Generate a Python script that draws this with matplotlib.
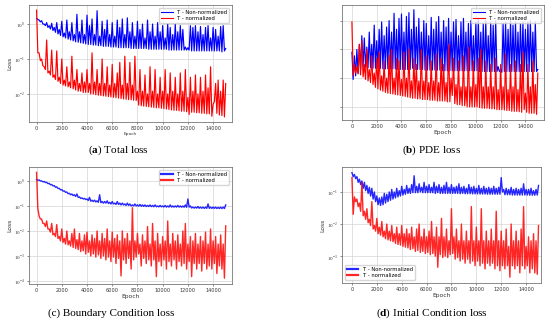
import numpy as np
import matplotlib
matplotlib.use("Agg")
import matplotlib.pyplot as plt

plt.rcParams['font.family'] = ['DejaVu Sans']
plt.rcParams['mathtext.fontset'] = 'custom'
plt.rcParams['mathtext.bf'] = 'Liberation Serif:bold'
plt.rcParams['mathtext.rm'] = 'Liberation Serif'

# epochs: peaks sampled at even hundreds*2, floors in between
ep_top = np.arange(0, 15001, 200)
ep_bot = np.arange(100, 15000, 200)

# ---------- (a) Total loss ----------
a_blue_top = [1.45, 1.3, 1.25, 1.0, 1.1, 0.9, 1.05, 0.8, 1.1, 0.7,
              1.2, 0.55, 1.3, 0.6, 1.1, 0.5, 1.9, 0.6, 1.3, 0.5,
              1.8, 0.9, 1.4, 0.5, 2.4, 0.45, 1.2, 0.7, 1.3, 0.5,
              1.1, 0.45, 1.3, 0.8, 1.4, 0.5, 1.5, 0.6, 1.1, 0.45,
              1.2, 0.7, 1.0, 0.4, 1.3, 0.6, 1.0, 0.45, 1.1, 0.6,
              0.9, 0.4, 1.0, 0.8, 0.5, 1.0, 0.6, 0.9, 0.7, 0.22,
              0.21, 0.9, 0.8, 0.9, 0.6, 0.85, 0.5, 0.8, 0.9, 0.4,
              0.8, 0.7, 0.45, 0.85, 0.9, 0.2]
a_blue_bot = [1.35, 1.15, 1.0, 0.9, 0.8, 0.72, 0.65, 0.58, 0.52, 0.47,
              0.43, 0.4, 0.37, 0.35, 0.33, 0.31, 0.3, 0.29, 0.28, 0.27,
              0.26, 0.26, 0.25, 0.25, 0.24, 0.24, 0.23, 0.23, 0.23, 0.22,
              0.22, 0.22, 0.21, 0.21, 0.21, 0.21, 0.21, 0.2, 0.2, 0.2,
              0.2, 0.2, 0.2, 0.2, 0.19, 0.19, 0.19, 0.19, 0.19, 0.19,
              0.19, 0.19, 0.18, 0.18, 0.18, 0.18, 0.18, 0.18, 0.18, 0.18,
              0.18, 0.17, 0.17, 0.17, 0.17, 0.17, 0.17, 0.17, 0.17, 0.17,
              0.17, 0.17, 0.17, 0.16, 0.17]
a_red_top = [2.5, 0.15, 0.1, 0.06, 0.35, 0.045, 0.18, 0.035, 0.17, 0.03,
             0.1, 0.025, 0.06, 0.022, 0.12, 0.025, 0.05, 0.02, 0.04, 0.022,
             0.05, 0.02, 0.15, 0.022, 0.05, 0.02, 0.1, 0.02, 0.06, 0.018,
             0.07, 0.02, 0.04, 0.08, 0.018, 0.12, 0.02, 0.08, 0.018, 0.12,
             0.012, 0.05, 0.012, 0.035, 0.01, 0.06, 0.012, 0.05, 0.01, 0.03,
             0.012, 0.05, 0.01, 0.04, 0.012, 0.03, 0.01, 0.04, 0.012, 0.05,
             0.008, 0.03, 0.012, 0.035, 0.01, 0.03, 0.012, 0.035, 0.015, 0.06,
             0.005, 0.02, 0.025, 0.012, 0.025, 0.02]
a_red_bot = [0.15, 0.09, 0.065, 0.05, 0.04, 0.035, 0.03, 0.026, 0.023, 0.02,
             0.018, 0.017, 0.016, 0.015, 0.014, 0.013, 0.012, 0.012, 0.011, 0.011,
             0.011, 0.01, 0.01, 0.0095, 0.0092, 0.009, 0.0088, 0.0086, 0.0084, 0.0082,
             0.008, 0.0078, 0.0076, 0.0074, 0.0072, 0.007, 0.0069, 0.0068, 0.0066, 0.0065,
             0.0048, 0.0046, 0.0045, 0.0044, 0.0043, 0.0042, 0.0041, 0.004, 0.004, 0.0039,
             0.0038, 0.0037, 0.0036, 0.0035, 0.0034, 0.0034, 0.0033, 0.0032, 0.0032, 0.0031,
             0.0026, 0.003, 0.003, 0.0029, 0.0029, 0.0028, 0.0028, 0.0027, 0.0027, 0.0023,
             0.006, 0.0028, 0.0025, 0.0024, 0.0022]

# ---------- (b) PDE loss ----------
b_blue_top = [0.08, 0.06, 0.1, 0.15, 0.3, 0.25, 0.12, 0.4, 0.15, 0.7,
              0.2, 0.5, 0.9, 0.3, 0.6, 1.0, 0.4, 1.8, 0.5, 1.2,
              1.7, 0.4, 1.4, 1.9, 0.5, 2.4, 0.6, 1.2, 0.4, 1.0,
              0.8, 0.3, 1.3, 0.5, 0.9, 1.4, 0.4, 1.0, 0.6, 1.2,
              0.4, 0.9, 1.1, 0.3, 0.9, 1.2, 0.4, 0.8, 1.0, 0.3,
              0.9, 1.1, 0.4, 0.8, 1.0, 0.3, 0.9, 0.7, 1.0, 0.025,
              0.02, 0.8, 0.9, 0.5, 1.0, 0.7, 0.9, 0.4, 0.8, 0.9,
              0.5, 0.9, 1.0, 0.4, 0.9, 0.02]
b_blue_bot = [0.009, 0.012, 0.015, 0.02, 0.025, 0.024, 0.023, 0.023, 0.022, 0.022,
              0.022, 0.022, 0.021, 0.021, 0.021, 0.021, 0.021, 0.021, 0.02, 0.02,
              0.02, 0.02, 0.02, 0.02, 0.022, 0.02, 0.02, 0.02, 0.02, 0.019,
              0.019, 0.019, 0.019, 0.019, 0.019, 0.019, 0.018, 0.018, 0.018, 0.018,
              0.018, 0.018, 0.018, 0.018, 0.018, 0.018, 0.018, 0.018, 0.018, 0.018,
              0.018, 0.017, 0.017, 0.017, 0.017, 0.017, 0.017, 0.017, 0.017, 0.017,
              0.016, 0.017, 0.017, 0.017, 0.017, 0.017, 0.017, 0.017, 0.017, 0.017,
              0.017, 0.017, 0.017, 0.017, 0.017]
b_red_top = [0.9, 0.03, 0.025, 0.15, 0.2, 0.03, 0.1, 0.02, 0.06, 0.015,
             0.05, 0.08, 0.012, 0.04, 0.01, 0.06, 0.1, 0.01, 0.05, 0.04,
             0.009, 0.08, 0.01, 0.1, 0.008, 0.05, 0.03, 0.008, 0.1, 0.008,
             0.06, 0.007, 0.04, 0.008, 0.07, 0.007, 0.05, 0.03, 0.007, 0.15,
             0.01, 0.05, 0.006, 0.04, 0.005, 0.06, 0.005, 0.12, 0.005, 0.04,
             0.006, 0.05, 0.1, 0.005, 0.04, 0.005, 0.03, 0.005, 0.05, 0.004,
             0.03, 0.005, 0.07, 0.004, 0.03, 0.005, 0.04, 0.004, 0.03, 0.08,
             0.003, 0.03, 0.005, 0.04, 0.006, 0.015]
b_red_bot = [0.012, 0.015, 0.014, 0.013, 0.011, 0.009, 0.008, 0.007, 0.006, 0.0048,
             0.0042, 0.0038, 0.0035, 0.0032, 0.003, 0.0029, 0.0028, 0.0027, 0.0026, 0.0025,
             0.0024, 0.0023, 0.0022, 0.0021, 0.002, 0.002, 0.0019, 0.0019, 0.0018, 0.0018,
             0.0018, 0.0017, 0.0017, 0.0017, 0.0016, 0.0016, 0.0016, 0.0016, 0.0015, 0.0015,
             0.0025, 0.0013, 0.0012, 0.0012, 0.0011, 0.0011, 0.001, 0.001, 0.001, 0.001,
             0.001, 0.00095, 0.0009, 0.0009, 0.0009, 0.00088, 0.00085, 0.00085, 0.0008, 0.0008,
             0.0008, 0.00078, 0.00075, 0.00075, 0.0007, 0.0007, 0.0007, 0.00068, 0.00065, 0.0008,
             0.00065, 0.0006, 0.0006, 0.0006, 0.00055]

# ---------- (c) Boundary Condition loss ----------
c_blue_top = [1.15, 1.1, 1.0, 0.95, 0.88, 0.8, 0.72, 0.65, 0.58, 0.5,
              0.45, 0.4, 0.36, 0.32, 0.3, 0.28, 0.3, 0.23, 0.21, 0.2,
              0.19, 0.22, 0.17, 0.17, 0.16, 0.28, 0.15, 0.15, 0.16, 0.14,
              0.15, 0.13, 0.15, 0.13, 0.13, 0.12, 0.13, 0.12, 0.11, 0.12,
              0.11, 0.115, 0.11, 0.11, 0.105, 0.11, 0.105, 0.11, 0.1, 0.105,
              0.1, 0.105, 0.1, 0.11, 0.1, 0.1, 0.105, 0.1, 0.1, 0.11,
              0.19, 0.1, 0.09, 0.09, 0.095, 0.09, 0.09, 0.09, 0.12, 0.09,
              0.09, 0.09, 0.088, 0.09, 0.09, 0.11]
c_blue_bot = [1.05, 1.0, 0.92, 0.86, 0.78, 0.7, 0.63, 0.56, 0.5, 0.44,
              0.39, 0.35, 0.31, 0.28, 0.26, 0.24, 0.22, 0.2, 0.19, 0.18,
              0.165, 0.155, 0.15, 0.145, 0.14, 0.135, 0.13, 0.13, 0.125, 0.12,
              0.12, 0.115, 0.115, 0.11, 0.11, 0.105, 0.105, 0.1, 0.1, 0.1,
              0.098, 0.097, 0.096, 0.095, 0.095, 0.094, 0.093, 0.093, 0.092, 0.092,
              0.091, 0.09, 0.09, 0.09, 0.09, 0.09, 0.09, 0.089, 0.089, 0.088,
              0.09, 0.083, 0.082, 0.082, 0.081, 0.081, 0.08, 0.08, 0.08, 0.08,
              0.08, 0.079, 0.079, 0.079, 0.079]
c_red_top = [2.2, 0.04, 0.03, 0.02, 0.025, 0.012, 0.02, 0.008, 0.018, 0.006,
             0.012, 0.005, 0.01, 0.004, 0.008, 0.012, 0.0045, 0.008, 0.004, 0.007,
             0.009, 0.004, 0.007, 0.005, 0.01, 0.004, 0.008, 0.005, 0.012, 0.004,
             0.009, 0.005, 0.007, 0.004, 0.01, 0.005, 0.008, 0.004, 0.085, 0.004,
             0.008, 0.003, 0.007, 0.004, 0.015, 0.003, 0.02, 0.004, 0.008, 0.003,
             0.006, 0.004, 0.025, 0.003, 0.008, 0.004, 0.007, 0.003, 0.01, 0.02,
             0.003, 0.006, 0.004, 0.008, 0.003, 0.006, 0.004, 0.009, 0.003, 0.012,
             0.004, 0.006, 0.003, 0.007, 0.003, 0.016]
c_red_bot = [0.08, 0.03, 0.02, 0.015, 0.012, 0.009, 0.007, 0.006, 0.005, 0.004,
             0.0035, 0.003, 0.0028, 0.0025, 0.0022, 0.002, 0.0018, 0.0015, 0.0016, 0.0012,
             0.0014, 0.001, 0.0012, 0.0009, 0.0011, 0.0008, 0.001, 0.0007, 0.0009, 0.0006,
             0.0009, 0.0005, 0.0008, 0.00016, 0.0007, 0.0005, 0.0008, 0.0003, 0.0007, 0.0009,
             0.0012, 0.0004, 0.0008, 0.0005, 0.0007, 0.0004, 0.0007, 0.00015, 0.0006, 0.0004,
             0.0007, 0.0003, 0.0006, 0.0004, 0.0007, 0.0003, 0.0006, 0.0004, 0.0005, 0.0003,
             0.0006, 0.00015, 0.0005, 0.0003, 0.0005, 0.00025, 0.0005, 0.0003, 0.0004, 0.0003,
             0.0005, 0.0002, 0.0004, 0.0003, 0.00013]

# ---------- (d) Initial Condition loss ----------
d_blue_top = [0.4, 0.35, 0.3, 0.25, 0.22, 0.2, 0.16, 0.14, 0.13, 0.1,
              0.075, 0.065, 0.07, 0.09, 0.085, 0.1, 0.12, 0.1, 0.13, 0.11,
              0.15, 0.12, 0.16, 0.13, 0.17, 0.32, 0.15, 0.18, 0.14, 0.2,
              0.15, 0.17, 0.14, 0.2, 0.15, 0.17, 0.14, 0.16, 0.2, 0.14,
              0.17, 0.14, 0.15, 0.18, 0.14, 0.15, 0.13, 0.17, 0.14, 0.15,
              0.13, 0.16, 0.13, 0.15, 0.13, 0.14, 0.13, 0.15, 0.13, 0.14,
              0.28, 0.12, 0.13, 0.12, 0.14, 0.12, 0.13, 0.12, 0.13, 0.18,
              0.12, 0.12, 0.13, 0.11, 0.12, 0.16]
d_blue_bot = [0.3, 0.26, 0.2, 0.17, 0.13, 0.11, 0.09, 0.075, 0.06, 0.05,
              0.04, 0.038, 0.04, 0.045, 0.05, 0.055, 0.06, 0.065, 0.07, 0.075,
              0.08, 0.085, 0.09, 0.09, 0.095, 0.095, 0.095, 0.1, 0.095, 0.095,
              0.095, 0.095, 0.095, 0.09, 0.095, 0.09, 0.09, 0.09, 0.09, 0.09,
              0.09, 0.09, 0.09, 0.088, 0.09, 0.088, 0.088, 0.088, 0.087, 0.087,
              0.087, 0.086, 0.086, 0.086, 0.085, 0.085, 0.085, 0.085, 0.085, 0.085,
              0.1, 0.082, 0.082, 0.082, 0.08, 0.08, 0.08, 0.08, 0.08, 0.08,
              0.08, 0.079, 0.079, 0.079, 0.08]
d_red_top = [0.28, 0.07, 0.06, 0.045, 0.2, 0.025, 0.03, 0.014, 0.05, 0.009,
             0.015, 0.008, 0.012, 0.006, 0.01, 0.006, 0.009, 0.005, 0.008, 0.005,
             0.009, 0.005, 0.007, 0.005, 0.008, 0.004, 0.007, 0.01, 0.004, 0.007,
             0.004, 0.006, 0.012, 0.004, 0.008, 0.004, 0.015, 0.004, 0.007, 0.003,
             0.03, 0.004, 0.007, 0.003, 0.01, 0.003, 0.006, 0.003, 0.035, 0.003,
             0.008, 0.003, 0.03, 0.003, 0.006, 0.003, 0.007, 0.003, 0.025, 0.003,
             0.006, 0.003, 0.007, 0.002, 0.01, 0.003, 0.006, 0.003, 0.007, 0.035,
             0.002, 0.004, 0.003, 0.005, 0.003, 0.009]
d_red_bot = [0.02, 0.05, 0.035, 0.025, 0.018, 0.014, 0.011, 0.009, 0.007, 0.006,
             0.005, 0.0045, 0.004, 0.0035, 0.0032, 0.003, 0.0028, 0.0025, 0.0023, 0.0022,
             0.002, 0.0019, 0.0018, 0.0016, 0.0017, 0.0014, 0.0015, 0.0013, 0.0014, 0.0012,
             0.0013, 0.0011, 0.0012, 0.001, 0.00045, 0.0011, 0.0009, 0.001, 0.0009, 0.0011,
             0.0012, 0.0008, 0.0009, 0.0007, 0.0008, 0.0006, 0.0008, 0.0006, 0.0007, 0.0005,
             0.0007, 0.0005, 0.0006, 0.0004, 0.0006, 0.0005, 0.0006, 0.0004, 0.0005, 0.00035,
             0.0005, 0.0004, 0.0005, 0.00022, 0.0005, 0.0004, 0.0005, 0.0003, 0.0005, 0.0004,
             0.0005, 0.0003, 0.0004, 0.0003, 0.00027]

xticks = [0, 2000, 4000, 6000, 8000, 10000, 12000, 14000]
labels = ["T - Non-normalized", "T - normalized"]
captions = [r"($\mathbf{a}$) Total loss", r"($\mathbf{b}$) PDE loss",
            "(c) Boundary Condition loss", r"($\mathbf{d}$) Initial Condition loss"]


def zigzag(top, bot):
    x = np.empty(len(top) + len(bot))
    y = np.empty(len(top) + len(bot))
    x[0::2] = ep_top
    x[1::2] = ep_bot
    y[0::2] = top
    y[1::2] = bot
    return x, y


W, H = 550, 320
fig = plt.figure(figsize=(5.5, 3.2), dpi=100)


def panel(rect, blue, red, xlim, ylim, yticks, ylabels, epoch_size, legend_loc,
          lw, alpha, handle_lw, loss_label=True):
    l, t, r, b = rect
    ax = fig.add_axes([l / W, 1 - b / H, (r - l) / W, (b - t) / H])
    xb, yb = zigzag(*blue)
    xr, yr = zigzag(*red)
    ax.plot(xb, yb, color="blue", lw=lw, alpha=alpha, label=labels[0])
    ax.plot(xr, yr, color="red", lw=lw, alpha=alpha, label=labels[1])
    ax.set_yscale("log")
    ax.set_xlim(*xlim)
    ax.set_ylim(*ylim)
    ax.set_xticks(xticks)
    ax.set_yticks(yticks)
    ax.minorticks_off()
    if ylabels:
        ax.set_yticklabels([r"$10^{%d}$" % v for v in ylabels])
    else:
        ax.set_yticklabels([])
    ax.tick_params(labelsize=3.6, length=1.5, width=0.4, pad=1.5, colors="#333333")
    ax.grid(True, color="#d4d4d4", lw=0.5)
    for s in ax.spines.values():
        s.set_color("#777777")
        s.set_linewidth(0.6)
    ax.set_xlabel("Epoch", fontsize=epoch_size, labelpad=0.5, color="#333333")
    if loss_label:
        ax.set_ylabel("Loss", fontsize=4.3, labelpad=1, color="#333333")
    leg = ax.legend(loc=legend_loc, fontsize=3.8, handlelength=2.2, borderpad=0.4,
                    labelspacing=0.3, framealpha=0.8, edgecolor="#cccccc")
    for h in leg.get_lines():
        h.set_linewidth(handle_lw)
    return ax


panel((29, 5, 232, 122), (a_blue_top, a_blue_bot), (a_red_top, a_red_bot),
      (-600, 15500), (1.58e-3, 3.5), [1e-2, 1e-1, 1], [-2, -1, 0], 3.2,
      "upper right", 0.85, 1.0, 0.8)
panel((342, 5, 544, 120), (b_blue_top, b_blue_bot), (b_red_top, b_red_bot),
      (-800, 15500), (3.5e-4, 3.5), [1e-3, 1e-2, 1e-1, 1], None, 4.3,
      "upper right", 0.85, 1.0, 0.8, loss_label=False)
panel((29, 167, 232, 284), (c_blue_top, c_blue_bot), (c_red_top, c_red_bot),
      (-600, 15500), (7.6e-5, 3.6), [1e-4, 1e-3, 1e-2, 1e-1, 1], [-4, -3, -2, -1, 0], 4.3,
      "upper right", 1.0, 0.85, 1.6)
panel((342, 167, 541, 283), (d_blue_top, d_blue_bot), (d_red_top, d_red_bot),
      (-800, 15200), (1.45e-4, 0.6), [1e-3, 1e-2, 1e-1], [-3, -2, -1], 4.3,
      "lower left", 1.0, 0.85, 1.6)

for (cx, cy), txt in zip([(118, 150), (432, 150), (111, 313), (432, 313)], captions):
    fig.text(cx / W, 1 - cy / H, txt, ha="center", va="center",
             family="Liberation Serif", fontsize=8)

fig.savefig("out.png", dpi=100)
